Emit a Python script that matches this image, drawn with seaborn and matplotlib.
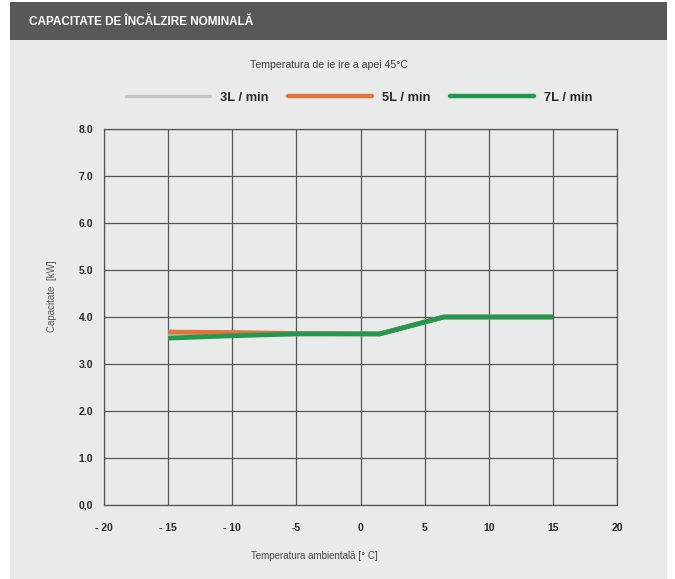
import matplotlib
matplotlib.use("Agg")
import matplotlib.pyplot as plt
import matplotlib.patches as mpatches
import seaborn as sns
import pandas as pd

# Data
series_names = ["3L / min", "5L / min", "7L / min"]
temp_3l = [-15, -10, -5, 1.5, 6.5, 15]
cap_3l = [3.62, 3.62, 3.64, 3.64, 4.0, 4.0]
temp_5l = [-15, -10, -5, 1.5, 6.5, 15]
cap_5l = [3.68, 3.67, 3.65, 3.64, 4.0, 4.0]
temp_7l = [-15, -10, -5, 1.5, 6.5, 15]
cap_7l = [3.55, 3.6, 3.64, 3.64, 4.0, 4.0]
x_ticks = [-20, -15, -10, -5, 0, 5, 10, 15, 20]
x_tick_labels = ["- 20", "- 15", "- 10", "-5", "0", "5", "10", "15", "20"]
y_ticks = [0, 1, 2, 3, 4, 5, 6, 7, 8]
y_tick_labels = ["0,0", "1.0", "2.0", "3.0", "4.0", "5.0", "6.0", "7.0", "8.0"]
colors = ["#c4c4c4", "#e0743a", "#1f9a4e"]

frames = []
for name, xs, ys in zip(series_names, [temp_3l, temp_5l, temp_7l], [cap_3l, cap_5l, cap_7l]):
    frames.append(pd.DataFrame({"temp": xs, "cap": ys, "series": name}))
df = pd.concat(frames, ignore_index=True)

sns.set_style("white")
plt.rcParams["font.family"] = ["Liberation Sans", "DejaVu Sans"]

fig = plt.figure(figsize=(6.75, 5.79), dpi=100)
fig.patch.set_facecolor("white")

# panel background
fig.patches.append(mpatches.Rectangle((10/675, 0), 657/675, 1 - 38/579, transform=fig.transFigure,
                                      facecolor="#e9ebea", edgecolor="none", zorder=-2))
# title bar
fig.patches.append(mpatches.Rectangle((10/675, 1 - 40/579), 657/675, 38/579, transform=fig.transFigure,
                                      facecolor="#58585a", edgecolor="none", zorder=-1))
fig.text(29/675, 1 - 22/579, "CAPACITATE DE ÎNCĂLZIRE NOMINALĂ", color="white",
         fontsize=8.5, fontweight="bold", va="center", ha="left")
fig.text(329/675, 1 - 65/579, "Temperatura de ie ire a apei 45°C", color="#3a3a3a",
         fontsize=7.6, va="center", ha="center")

ax = fig.add_axes([104/675, 1 - 505/579, 513/675, 376/579])
ax.set_zorder(2)
ax.set_facecolor("#e9ebea")

sns.lineplot(data=df, x="temp", y="cap", hue="series", hue_order=series_names,
             palette=colors, linewidth=3.4, ax=ax, legend=False, sort=False,
             solid_capstyle="butt")

ax.set_xlim(-20, 20)
ax.set_ylim(0, 8)
ax.set_xticks(x_ticks)
ax.set_xticklabels(x_tick_labels, fontsize=7.5, fontweight="bold")
ax.set_yticks(y_ticks)
ax.set_yticklabels(y_tick_labels, fontsize=7.5, fontweight="bold")
ax.tick_params(axis="x", length=0, pad=13)
ax.tick_params(axis="y", length=0, pad=8)
ax.grid(True, color="#555555", linewidth=0.9)
ax.set_axisbelow(True)
for s in ax.spines.values():
    s.set_color("#555555")
    s.set_linewidth(0.9)
ax.set_xlabel("Temperatura ambientală [° C]", fontsize=7, color="#444444")
ax.set_ylabel("Capacitate  [kW]", fontsize=7, color="#555555")
ax.xaxis.set_label_coords((314 - 104) / 513, -(551 - 505) / 376)
ax.yaxis.set_label_coords((57 - 104) / 513, (505 - 296) / 376)

handles = [plt.Line2D([], [], color=c, linewidth=2.4 if i == 0 else 3.2) for i, c in enumerate(colors)]
fig.legend(handles, series_names, loc="center", bbox_to_anchor=(359/675, 1 - 98/579), ncol=3,
           frameon=False, handlelength=6.5, columnspacing=1.5, handletextpad=0.8,
           prop={"weight": "bold", "size": 9.3})

fig.savefig("out.png", dpi=100, facecolor=fig.get_facecolor())
